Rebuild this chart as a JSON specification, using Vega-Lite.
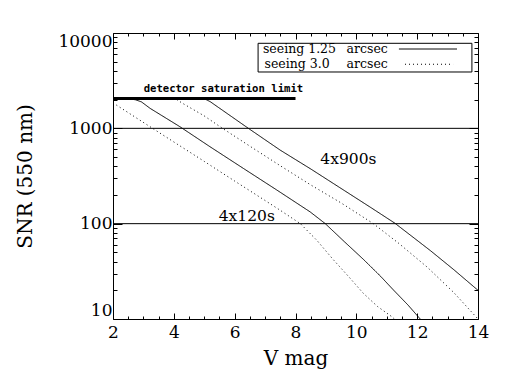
{
  "$schema": "https://vega.github.io/schema/vega-lite/v6.json",
  "width": 365,
  "height": 286,
  "autosize": {"type": "none"},
  "padding": {"left": 113, "top": 33, "right": 34, "bottom": 65},
  "background": "white",
  "config": {
    "view": {"stroke": null},
    "axis": {
      "grid": false,
      "domainColor": "black",
      "tickColor": "black",
      "labelColor": "black",
      "titleColor": "black",
      "labelFont": "DejaVu Serif",
      "titleFont": "DejaVu Serif",
      "labelFontSize": 17,
      "titleFontSize": 20,
      "titleFontWeight": "normal",
      "tickWidth": 1,
      "domainWidth": 1
    }
  },
  "datasets": {
    "curves": [
      {"vmag": 2.0, "snr": 2050, "seeing": "1.25", "exp": "120"},
      {"vmag": 2.5, "snr": 2050, "seeing": "1.25", "exp": "120"},
      {"vmag": 2.75, "snr": 1990, "seeing": "1.25", "exp": "120"},
      {"vmag": 2.94, "snr": 1890, "seeing": "1.25", "exp": "120"},
      {"vmag": 3.22, "snr": 1620, "seeing": "1.25", "exp": "120"},
      {"vmag": 4.2, "snr": 1040, "seeing": "1.25", "exp": "120"},
      {"vmag": 5.19, "snr": 641, "seeing": "1.25", "exp": "120"},
      {"vmag": 6.28, "snr": 381, "seeing": "1.25", "exp": "120"},
      {"vmag": 7.38, "snr": 226, "seeing": "1.25", "exp": "120"},
      {"vmag": 8.48, "snr": 133, "seeing": "1.25", "exp": "120"},
      {"vmag": 8.98, "snr": 100, "seeing": "1.25", "exp": "120"},
      {"vmag": 9.6, "snr": 65, "seeing": "1.25", "exp": "120"},
      {"vmag": 10.24, "snr": 42, "seeing": "1.25", "exp": "120"},
      {"vmag": 10.8, "snr": 28, "seeing": "1.25", "exp": "120"},
      {"vmag": 11.23, "snr": 20, "seeing": "1.25", "exp": "120"},
      {"vmag": 11.7, "snr": 14, "seeing": "1.25", "exp": "120"},
      {"vmag": 12.1, "snr": 10, "seeing": "1.25", "exp": "120"},

      {"vmag": 2.0, "snr": 1850, "seeing": "3.0", "exp": "120"},
      {"vmag": 3.3, "snr": 1000, "seeing": "3.0", "exp": "120"},
      {"vmag": 4.2, "snr": 655, "seeing": "3.0", "exp": "120"},
      {"vmag": 5.0, "snr": 450, "seeing": "3.0", "exp": "120"},
      {"vmag": 6.0, "snr": 280, "seeing": "3.0", "exp": "120"},
      {"vmag": 7.0, "snr": 175, "seeing": "3.0", "exp": "120"},
      {"vmag": 7.5, "snr": 138, "seeing": "3.0", "exp": "120"},
      {"vmag": 8.16, "snr": 100, "seeing": "3.0", "exp": "120"},
      {"vmag": 8.7, "snr": 67, "seeing": "3.0", "exp": "120"},
      {"vmag": 9.24, "snr": 42, "seeing": "3.0", "exp": "120"},
      {"vmag": 9.74, "snr": 28, "seeing": "3.0", "exp": "120"},
      {"vmag": 10.23, "snr": 18.6, "seeing": "3.0", "exp": "120"},
      {"vmag": 10.7, "snr": 13.5, "seeing": "3.0", "exp": "120"},
      {"vmag": 11.18, "snr": 10.5, "seeing": "3.0", "exp": "120"},
      {"vmag": 11.25, "snr": 10, "seeing": "3.0", "exp": "120"},

      {"vmag": 2.0, "snr": 2050, "seeing": "1.25", "exp": "900"},
      {"vmag": 5.0, "snr": 2050, "seeing": "1.25", "exp": "900"},
      {"vmag": 5.2, "snr": 1900, "seeing": "1.25", "exp": "900"},
      {"vmag": 6.45, "snr": 1000, "seeing": "1.25", "exp": "900"},
      {"vmag": 7.5, "snr": 590, "seeing": "1.25", "exp": "900"},
      {"vmag": 8.5, "snr": 375, "seeing": "1.25", "exp": "900"},
      {"vmag": 9.5, "snr": 234, "seeing": "1.25", "exp": "900"},
      {"vmag": 10.5, "snr": 146, "seeing": "1.25", "exp": "900"},
      {"vmag": 11.27, "snr": 101, "seeing": "1.25", "exp": "900"},
      {"vmag": 12.44, "snr": 52, "seeing": "1.25", "exp": "900"},
      {"vmag": 13.2, "snr": 33, "seeing": "1.25", "exp": "900"},
      {"vmag": 14.0, "snr": 20, "seeing": "1.25", "exp": "900"},

      {"vmag": 2.0, "snr": 2050, "seeing": "3.0", "exp": "900"},
      {"vmag": 4.04, "snr": 2050, "seeing": "3.0", "exp": "900"},
      {"vmag": 4.3, "snr": 1820, "seeing": "3.0", "exp": "900"},
      {"vmag": 5.0, "snr": 1350, "seeing": "3.0", "exp": "900"},
      {"vmag": 5.6, "snr": 1000, "seeing": "3.0", "exp": "900"},
      {"vmag": 6.5, "snr": 650, "seeing": "3.0", "exp": "900"},
      {"vmag": 7.5, "snr": 405, "seeing": "3.0", "exp": "900"},
      {"vmag": 8.5, "snr": 255, "seeing": "3.0", "exp": "900"},
      {"vmag": 9.5, "snr": 165, "seeing": "3.0", "exp": "900"},
      {"vmag": 10.56, "snr": 100, "seeing": "3.0", "exp": "900"},
      {"vmag": 11.4, "snr": 62, "seeing": "3.0", "exp": "900"},
      {"vmag": 12.33, "snr": 35, "seeing": "3.0", "exp": "900"},
      {"vmag": 13.2, "snr": 19, "seeing": "3.0", "exp": "900"},
      {"vmag": 14.0, "snr": 10, "seeing": "3.0", "exp": "900"}
    ],
    "refs": [
      {"x0": 2, "x1": 14, "snr": 100},
      {"x0": 2, "x1": 14, "snr": 1000}
    ],
    "sat": [
      {"x0": 2, "x1": 8, "snr": 2050}
    ],
    "labels": [
      {"vmag": 6.4, "snr": 119, "label": "4x120s"},
      {"vmag": 9.74, "snr": 472, "label": "4x900s"}
    ],
    "satlabel": [
      {"vmag": 5.63, "snr": 2587, "label": "detector saturation limit"}
    ],
    "legbox": [
      {"x0": 6.77, "x1": 13.8, "y0": 3900, "y1": 7798}
    ],
    "legtext": [
      {"vmag": 6.93, "snr": 6793, "label": "seeing 1.25"},
      {"vmag": 6.98, "snr": 4732, "label": "seeing 3.0"},
      {"vmag": 9.68, "snr": 6793, "label": "arcsec"},
      {"vmag": 9.68, "snr": 4732, "label": "arcsec"}
    ],
    "legline": [
      {"x0": 11.4, "x1": 13.31, "snr": 6793, "seeing": "1.25"},
      {"x0": 11.6, "x1": 13.18, "snr": 4700, "seeing": "3.0"}
    ]
  },
  "resolve": {"axis": {"x": "independent", "y": "independent"}},
  "layer": [
    {
      "data": {"name": "curves"},
      "mark": {"type": "line", "color": "black", "strokeWidth": 1, "clip": true},
      "encoding": {
        "x": {"field": "vmag", "type": "quantitative",
              "scale": {"domain": [2, 14], "nice": false, "zero": false},
              "axis": {"orient": "bottom", "values": [2, 4, 6, 8, 10, 12, 14], "format": "d",
                       "tickSize": -6, "labelPadding": 11, "title": "V mag", "titlePadding": 8, "labelFlush": false}},
        "y": {"field": "snr", "type": "quantitative",
              "scale": {"type": "log", "domain": [10, 10000], "nice": false},
              "axis": {"orient": "left", "values": [10, 100, 1000, 10000], "format": "d",
                       "tickSize": -9, "labelPadding": 10, "title": "SNR (550 nm)", "titlePadding": 22, "labelFlush": true}},
        "strokeDash": {"field": "seeing", "type": "nominal",
                       "scale": {"domain": ["1.25", "3.0"], "range": [[1, 0], [1, 3]]}, "legend": null},
        "detail": {"field": "exp", "type": "nominal"}
      }
    },
    {
      "data": {"name": "refs"},
      "mark": {"type": "rule", "color": "black", "strokeWidth": 1},
      "encoding": {
        "x": {"field": "x0", "type": "quantitative",
              "axis": {"orient": "bottom", "values": [2.5, 3, 3.5, 4.5, 5, 5.5, 6.5, 7, 7.5, 8.5, 9, 9.5, 10.5, 11, 11.5, 12.5, 13, 13.5],
                       "labels": false, "tickSize": -3, "domain": false, "title": null}},
        "x2": {"field": "x1"},
        "y": {"field": "snr", "type": "quantitative",
              "axis": {"orient": "left", "values": [20, 30, 40, 50, 60, 70, 80, 90, 200, 300, 400, 500, 600, 700, 800, 900, 2000, 3000, 4000, 5000, 6000, 7000, 8000, 9000],
                       "labels": false, "tickSize": -4, "domain": false, "title": null}}
      }
    },
    {
      "data": {"name": "sat"},
      "mark": {"type": "rule", "color": "black", "strokeWidth": 3},
      "encoding": {
        "x": {"field": "x0", "type": "quantitative",
              "axis": {"orient": "top", "values": [2, 4, 6, 8, 10, 12, 14], "labels": false, "tickSize": -6, "title": null}},
        "x2": {"field": "x1"},
        "y": {"field": "snr", "type": "quantitative",
              "axis": {"orient": "right", "values": [10, 100, 1000, 10000], "labels": false, "tickSize": -9, "title": null}}
      }
    },
    {
      "data": {"name": "labels"},
      "mark": {"type": "text", "font": "DejaVu Serif", "fontSize": 15.5, "color": "black", "align": "center", "baseline": "middle"},
      "encoding": {
        "x": {"field": "vmag", "type": "quantitative",
              "axis": {"orient": "top", "values": [2.5, 3, 3.5, 4.5, 5, 5.5, 6.5, 7, 7.5, 8.5, 9, 9.5, 10.5, 11, 11.5, 12.5, 13, 13.5],
                       "labels": false, "tickSize": -3, "domain": false, "title": null}},
        "y": {"field": "snr", "type": "quantitative",
              "axis": {"orient": "right", "values": [20, 30, 40, 50, 60, 70, 80, 90, 200, 300, 400, 500, 600, 700, 800, 900, 2000, 3000, 4000, 5000, 6000, 7000, 8000, 9000],
                       "labels": false, "tickSize": -4, "domain": false, "title": null}},
        "text": {"field": "label"}
      }
    },
    {
      "data": {"name": "satlabel"},
      "mark": {"type": "text", "font": "DejaVu Sans Mono", "fontWeight": "bold", "fontSize": 10.6, "color": "black", "align": "center", "baseline": "middle"},
      "encoding": {
        "x": {"field": "vmag", "type": "quantitative", "axis": null},
        "y": {"field": "snr", "type": "quantitative", "axis": null},
        "text": {"field": "label"}
      }
    },
    {
      "data": {"name": "legbox"},
      "mark": {"type": "rect", "fill": "white", "stroke": "black", "strokeWidth": 1},
      "encoding": {
        "x": {"field": "x0", "type": "quantitative", "axis": null},
        "x2": {"field": "x1"},
        "y": {"field": "y0", "type": "quantitative", "axis": null},
        "y2": {"field": "y1"}
      }
    },
    {
      "data": {"name": "legtext"},
      "mark": {"type": "text", "font": "DejaVu Serif", "fontSize": 12.5, "color": "black", "align": "left", "baseline": "middle"},
      "encoding": {
        "x": {"field": "vmag", "type": "quantitative", "axis": null},
        "y": {"field": "snr", "type": "quantitative", "axis": null},
        "text": {"field": "label"}
      }
    },
    {
      "data": {"name": "legline"},
      "mark": {"type": "rule", "color": "black", "strokeWidth": 1},
      "encoding": {
        "x": {"field": "x0", "type": "quantitative", "axis": null},
        "x2": {"field": "x1"},
        "y": {"field": "snr", "type": "quantitative", "axis": null},
        "strokeDash": {"field": "seeing", "type": "nominal",
                       "scale": {"domain": ["1.25", "3.0"], "range": [[1, 0], [1, 3]]}, "legend": null}
      }
    }
  ]
}
